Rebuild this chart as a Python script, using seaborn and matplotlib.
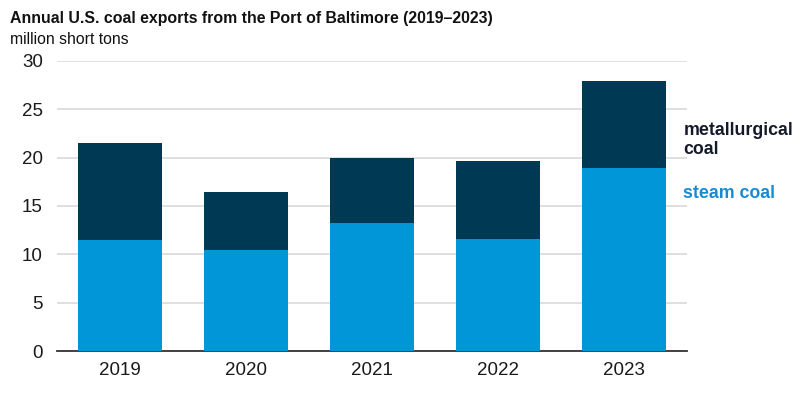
import pandas as pd
import seaborn as sns
import matplotlib.pyplot as plt

# data (million short tons)
years = ['2019', '2020', '2021', '2022', '2023']
steam_coal = [11.5, 10.4, 13.2, 11.6, 18.9]
metallurgical_coal = [10.0, 6.0, 6.8, 8.0, 9.0]

df = pd.DataFrame({'year': years, 'steam': steam_coal, 'met': metallurgical_coal})
df['total'] = df['steam'] + df['met']

sns.set_style('white')
plt.rcParams['font.family'] = ['Liberation Sans', 'DejaVu Sans']

fig = plt.figure(figsize=(8, 4), dpi=100)
ax = fig.add_axes([0.071, 0.1225, 0.788, 0.7255])

# stacked bars: total (dark) underneath, steam coal on top of it
sns.barplot(data=df, x='year', y='total', color='#003953', width=0.667,
            saturation=1, linewidth=0, ax=ax, zorder=2)
sns.barplot(data=df, x='year', y='steam', color='#0096D7', width=0.667,
            saturation=1, linewidth=0, ax=ax, zorder=3)

ax.set_ylim(0, 30)
ax.set_xlim(-0.5, 4.5)
ax.set_yticks([0, 5, 10, 15, 20, 25, 30])
ax.yaxis.grid(True, color='#d9d9d9', linewidth=1.2, zorder=0)
ax.set_axisbelow(True)
ax.set_xlabel('')
ax.set_ylabel('')
ax.tick_params(axis='both', length=0, labelsize=13.5, colors='#1a1a1a')
ax.tick_params(axis='y', pad=10)
ax.tick_params(axis='x', pad=8)
for s in ['top', 'right', 'left']:
    ax.spines[s].set_visible(False)
ax.spines['bottom'].set_color('#333333')
ax.spines['bottom'].set_linewidth(1.3)

# series labels at the right
ax.text(4.47, 21.8, 'metallurgical\ncoal', fontsize=12.8,
        fontweight='bold', color='#141a2a', va='center', ha='left',
        linespacing=1.1, clip_on=False)
ax.text(4.47, 16.3, 'steam coal', fontsize=12.8, fontweight='bold',
        color='#1a8ad0', va='center', ha='left', clip_on=False)

fig.text(0.012, 0.955, 'Annual U.S. coal exports from the Port of Baltimore (2019\u20132023)',
         fontsize=11.4, fontweight='bold', color='#111111', va='center')
fig.text(0.012, 0.9, 'million short tons', fontsize=11.3, color='#111111', va='center')

fig.savefig('out.png', dpi=100)
